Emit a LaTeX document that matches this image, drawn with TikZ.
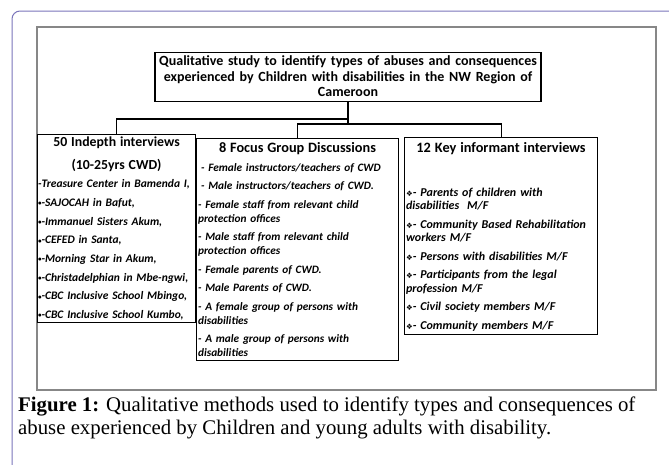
\documentclass[tikz,border=0pt]{standalone}
\usepackage{fontspec}
\setmainfont{Liberation Serif}
\newfontfamily\boxfont{Carlito}
\newfontfamily\symfont{DejaVu Sans}
\usetikzlibrary{positioning}

\definecolor{framecol}{RGB}{122,116,186}
\definecolor{innergray}{RGB}{135,135,135}

% small marks in front of the list items
\newcommand{\dia}{{\symfont\fontsize{7.5}{7.5}\selectfont\char"2756}}
\newcommand{\sqb}{\raisebox{0.8pt}{\fontsize{7}{7}\selectfont\textbullet}}

\begin{document}
\begin{tikzpicture}[x=1pt,y=-1pt,
  % STYLES
  every node/.style={inner sep=0pt},
  % OWNs
  mainbox/.style={draw,line width=1.1pt,align=center,text width=386pt,
    font=\boxfont\bfseries\fontsize{14}{15.5}\selectfont},
  listbox/.style={draw,line width=1.1pt,anchor=north west,align=left,inner xsep=1.5pt,
    font=\boxfont\bfseries\itshape\fontsize{11.3}{14}\selectfont},
  capnode/.style={anchor=north west,align=left,font=\fontsize{20.8}{23.5}\selectfont},
  link/.style={line width=1.1pt}]

  \useasboundingbox (0,0) rectangle (669,464);

  % frames
  \draw[framecol,line width=1pt,rounded corners=8pt] (12,480) -- (12,11) -- (690,11);
  \draw[innergray,line width=1.4pt] (37,27) rectangle (656,390);

  \node[mainbox,anchor=north] (main) at (348,52)
    {\rule{0pt}{13pt}Qualitative study to identify types of abuses and consequences\\
     experienced by Children with disabilities in the NW Region of\\
     Cameroon\rule[-5pt]{0pt}{5pt}};

  \node[listbox,text width=157pt,inner xsep=0.5pt,
    font=\boxfont\bfseries\itshape\fontsize{11.5}{14}\selectfont]
    (indepth) at (37,134)
    {{\centering\upshape\fontsize{13.8}{23}\selectfont\rule{0pt}{11.5pt}50 Indepth interviews\\
      (10-25yrs CWD)\par}
     \setlength{\parskip}{4.7pt}%
     -Treasure Center in Bamenda I,\par
     \sqb-SAJOCAH in Bafut,\par
     \sqb-Immanuel Sisters Akum,\par
     \sqb-CEFED in Santa,\par
     \sqb-Morning Star in Akum,\par
     \sqb-Christadelphian in Mbe-ngwi,\par
     \sqb-CBC Inclusive School Mbingo,\par
     \sqb-CBC Inclusive School Kumbo,\rule[-3.5pt]{0pt}{3.5pt}};

  \node[listbox,text width=199pt] (focus) at (196,138)
    {{\centering\upshape\fontsize{14.3}{15}\selectfont\rule{0pt}{14pt}8 Focus Group Discussions\par}
     \setlength{\parskip}{4.5pt}%
     \hspace{3pt}- Female instructors/teachers of CWD\par
     \hspace{3pt}- Male instructors/teachers of CWD.\par
     - Female staff from relevant child\\protection offices\par
     - Male staff from relevant child\\protection offices\par
     - Female parents of CWD.\par
     - Male Parents of CWD.\par
     - A female group of persons with\\disabilities\par
     - A male group of persons with\\disabilities\rule[-4pt]{0pt}{4pt}};

  \node[listbox,text width=190pt,font=\boxfont\bfseries\itshape\fontsize{12}{13.5}\selectfont]
    (keyinf) at (404,137)
    {{\centering\upshape\fontsize{14.3}{15}\selectfont\rule{0pt}{15pt}12 Key informant interviews\par}
     \vspace{25pt}\setlength{\parskip}{5pt}%
     \dia- Parents of children with\\disabilities~ M/F\par
     \dia- Community Based Rehabilitation\\workers M/F\par
     \dia- Persons with disabilities M/F\par
     \dia- Participants from the legal\\profession M/F\par
     \dia- Civil society members M/F\par
     \dia- Community members M/F\rule[-5.5pt]{0pt}{5.5pt}};

  % connectors
  \coordinate (j1) at (348,119);
  \coordinate (j2) at (348,124);
  \draw[link] (main.south) -- (j1) -| (indepth.north);
  \draw[link] (j1) -- (j2);
  \draw[link] (j2) -| (focus.north);
  \draw[link] (j2) -| (keyinf.north);

  \node[capnode] (caption) at (18,394)
    {\rule{0pt}{17pt}\textbf{Figure 1:} Qualitative methods used to identify types and consequences of\\
     abuse experienced by Children and young adults with disability.};
\end{tikzpicture}
\end{document}
